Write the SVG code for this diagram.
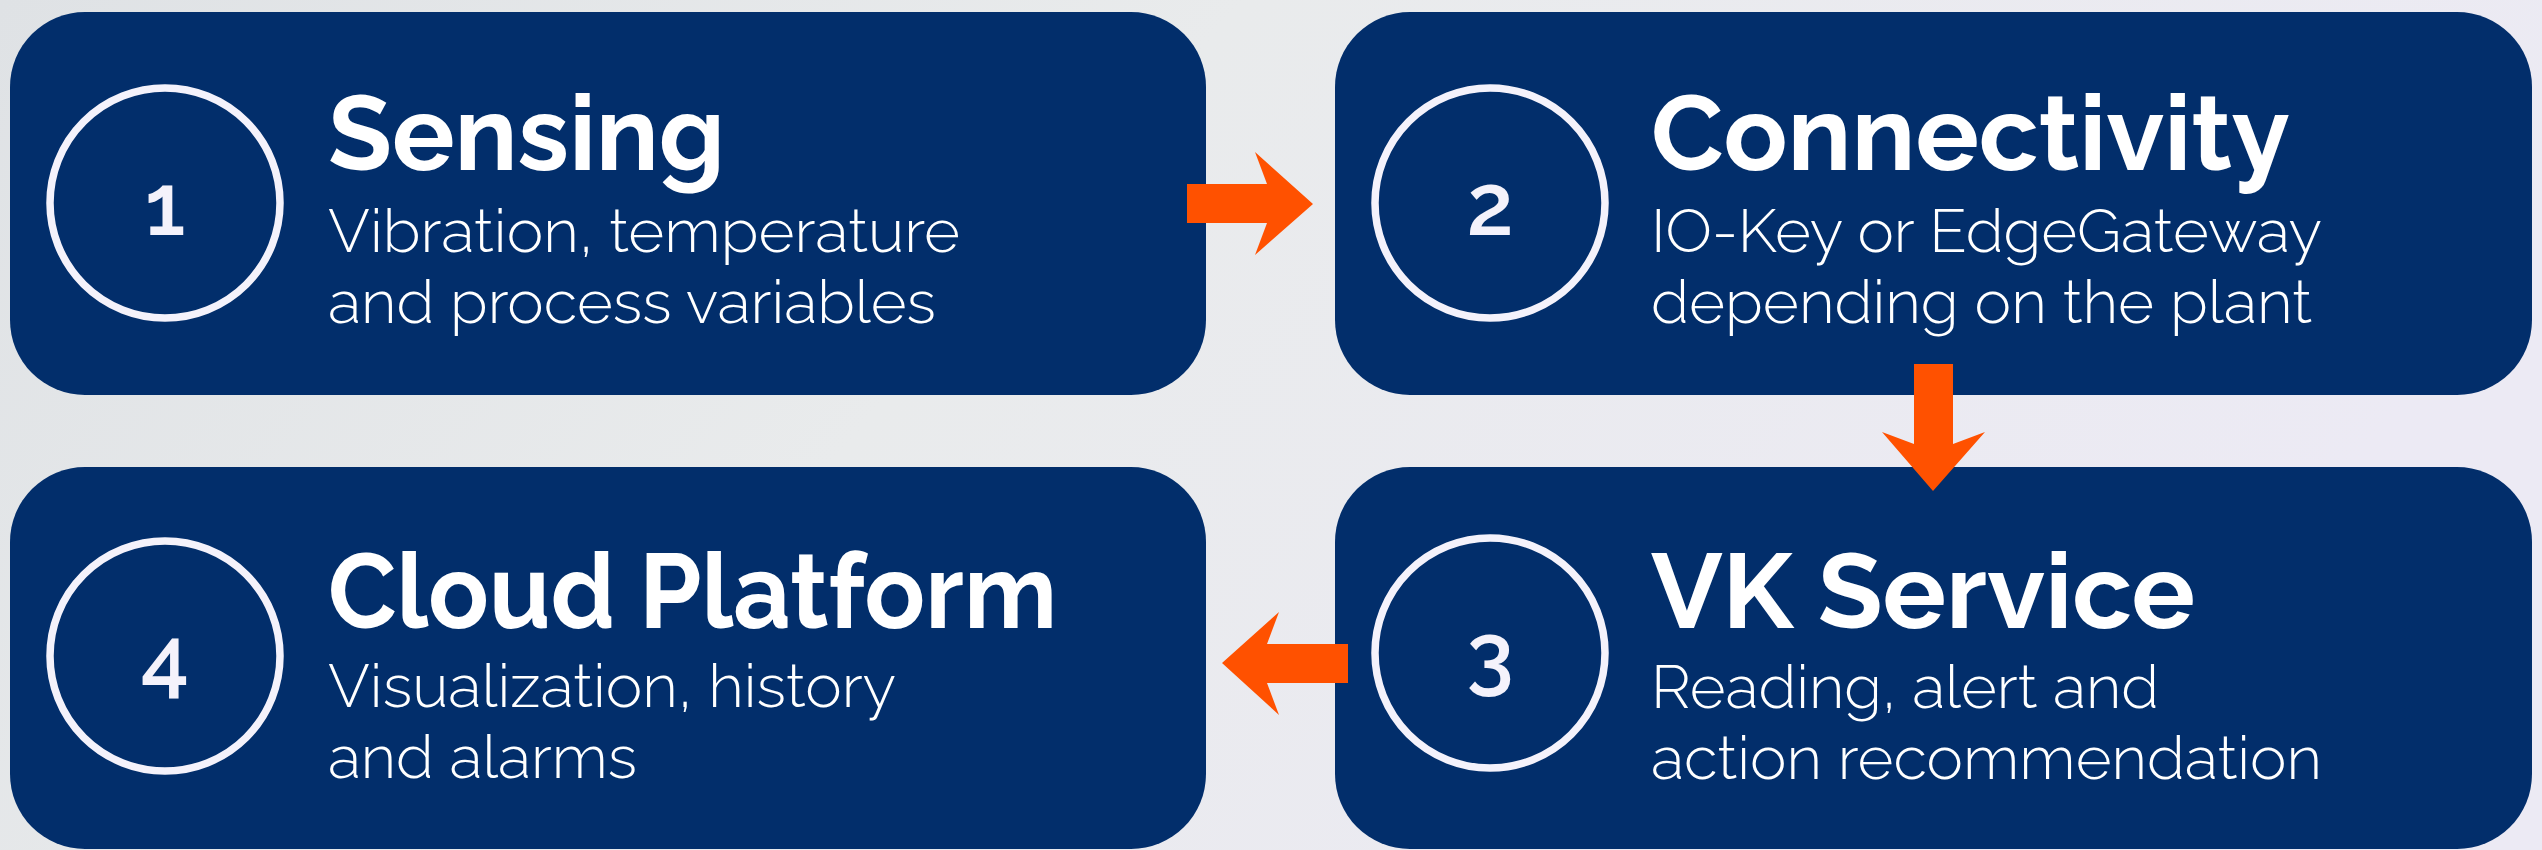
<svg xmlns="http://www.w3.org/2000/svg" width="2542" height="850" viewBox="0 0 2542 850">
<defs>
<linearGradient id="bg" x1="0" y1="0" x2="1" y2="0.3">
<stop offset="0" stop-color="#dfe2e5"/>
<stop offset="0.45" stop-color="#e9ebec"/>
<stop offset="1" stop-color="#eceaf4"/>
</linearGradient>
<style>
.box{fill:#022e6b}
.ring{fill:none;stroke:#f4f2fb;stroke-width:7.5}
.num{fill:#f4f2fb;font-family:"Raleway","Lato","Noto Sans",sans-serif;font-weight:600;font-size:86px;text-anchor:middle}
.title{fill:#ffffff;font-family:"Raleway","Lato","Noto Sans",sans-serif;font-weight:700;font-size:104px}
.sub{fill:#ffffff;font-family:"Raleway","Lato","Noto Sans",sans-serif;font-weight:300;font-size:60px}
.arrow{fill:#ff5100}
</style>
</defs>
<rect width="2542" height="850" fill="url(#bg)"/>
<g id="node1">
<rect class="box" x="10" y="12" width="1196" height="383" rx="75" ry="75"/>
<circle class="ring" cx="165" cy="203" r="115"/>
<text class="num" x="165" y="235">1</text>
<text class="title" x="328" y="170" textLength="397" lengthAdjust="spacingAndGlyphs">Sensing</text>
<text class="sub" x="328" y="252" textLength="632" lengthAdjust="spacingAndGlyphs">Vibration, temperature</text>
<text class="sub" x="328" y="323" textLength="608" lengthAdjust="spacingAndGlyphs">and process variables</text>
</g>
<g id="node2">
<rect class="box" x="1335" y="12" width="1197" height="383" rx="75" ry="75"/>
<circle class="ring" cx="1490" cy="203" r="115"/>
<text class="num" x="1490" y="235">2</text>
<text class="title" x="1651" y="170" textLength="639" lengthAdjust="spacingAndGlyphs">Connectivity</text>
<text class="sub" x="1651" y="252" textLength="671" lengthAdjust="spacingAndGlyphs">IO-Key or EdgeGateway</text>
<text class="sub" x="1651" y="323" textLength="661" lengthAdjust="spacingAndGlyphs">depending on the plant</text>
</g>
<g id="node3">
<rect class="box" x="1335" y="467" width="1197" height="382" rx="75" ry="75"/>
<circle class="ring" cx="1490" cy="653" r="115"/>
<text class="num" x="1490" y="684">3</text>
<text class="title" x="1651" y="628" textLength="544" lengthAdjust="spacingAndGlyphs">VK Service</text>
<text class="sub" x="1651" y="708" textLength="508" lengthAdjust="spacingAndGlyphs">Reading, alert and</text>
<text class="sub" x="1651" y="779" textLength="671" lengthAdjust="spacingAndGlyphs">action recommendation</text>
</g>
<g id="node4">
<rect class="box" x="10" y="467" width="1196" height="382" rx="75" ry="75"/>
<circle class="ring" cx="165" cy="656" r="115"/>
<text class="num" x="165" y="688">4</text>
<text class="title" x="328" y="628" textLength="729" lengthAdjust="spacingAndGlyphs">Cloud Platform</text>
<text class="sub" x="328" y="707" textLength="568" lengthAdjust="spacingAndGlyphs">Visualization, history</text>
<text class="sub" x="328" y="778" textLength="309" lengthAdjust="spacingAndGlyphs">and alarms</text>
</g>
<g id="connectors">
<polygon class="arrow" points="1187,184 1267,184 1255,152 1313,204 1255,255 1267,223 1187,223"/>
<polygon class="arrow" points="1914,364 1953,364 1953,444 1985,432 1933,491 1882,432 1914,444"/>
<polygon class="arrow" points="1348,644 1267,644 1279,612 1222,663 1279,715 1267,683 1348,683"/>
</g>
</svg>
